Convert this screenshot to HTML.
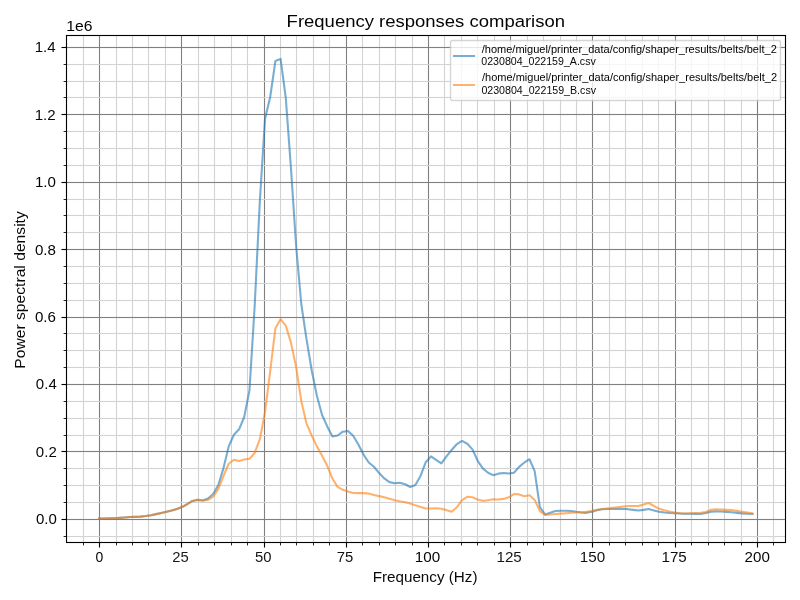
<!DOCTYPE html>
<html><head><meta charset="utf-8"><title>Frequency responses comparison</title>
<style>
html,body{margin:0;padding:0;background:#fff;}
body{width:800px;height:600px;overflow:hidden;}
svg{display:block;will-change:transform;}
text{font-family:"Liberation Sans",sans-serif;fill:#000;}
</style></head><body>
<svg width="800" height="600" viewBox="0 0 800 600">
<rect width="800" height="600" fill="#fff"/>
<g>
<rect x="98.945" y="35" width="1.11" height="507" fill="#808080"/>
<rect x="180.945" y="35" width="1.11" height="507" fill="#808080"/>
<rect x="263.945" y="35" width="1.11" height="507" fill="#808080"/>
<rect x="345.945" y="35" width="1.11" height="507" fill="#808080"/>
<rect x="427.945" y="35" width="1.11" height="507" fill="#808080"/>
<rect x="509.945" y="35" width="1.11" height="507" fill="#808080"/>
<rect x="591.945" y="35" width="1.11" height="507" fill="#808080"/>
<rect x="674.945" y="35" width="1.11" height="507" fill="#808080"/>
<rect x="756.945" y="35" width="1.11" height="507" fill="#808080"/>
<rect x="82.945" y="35" width="1.11" height="507" fill="#d3d3d3"/>
<rect x="115.945" y="35" width="1.11" height="507" fill="#d3d3d3"/>
<rect x="131.945" y="35" width="1.11" height="507" fill="#d3d3d3"/>
<rect x="147.945" y="35" width="1.11" height="507" fill="#d3d3d3"/>
<rect x="164.945" y="35" width="1.11" height="507" fill="#d3d3d3"/>
<rect x="197.945" y="35" width="1.11" height="507" fill="#d3d3d3"/>
<rect x="213.945" y="35" width="1.11" height="507" fill="#d3d3d3"/>
<rect x="230.945" y="35" width="1.11" height="507" fill="#d3d3d3"/>
<rect x="246.945" y="35" width="1.11" height="507" fill="#d3d3d3"/>
<rect x="279.945" y="35" width="1.11" height="507" fill="#d3d3d3"/>
<rect x="295.945" y="35" width="1.11" height="507" fill="#d3d3d3"/>
<rect x="312.945" y="35" width="1.11" height="507" fill="#d3d3d3"/>
<rect x="328.945" y="35" width="1.11" height="507" fill="#d3d3d3"/>
<rect x="361.945" y="35" width="1.11" height="507" fill="#d3d3d3"/>
<rect x="378.945" y="35" width="1.11" height="507" fill="#d3d3d3"/>
<rect x="394.945" y="35" width="1.11" height="507" fill="#d3d3d3"/>
<rect x="411.945" y="35" width="1.11" height="507" fill="#d3d3d3"/>
<rect x="443.945" y="35" width="1.11" height="507" fill="#d3d3d3"/>
<rect x="460.945" y="35" width="1.11" height="507" fill="#d3d3d3"/>
<rect x="476.945" y="35" width="1.11" height="507" fill="#d3d3d3"/>
<rect x="493.945" y="35" width="1.11" height="507" fill="#d3d3d3"/>
<rect x="526.945" y="35" width="1.11" height="507" fill="#d3d3d3"/>
<rect x="542.945" y="35" width="1.11" height="507" fill="#d3d3d3"/>
<rect x="559.945" y="35" width="1.11" height="507" fill="#d3d3d3"/>
<rect x="575.945" y="35" width="1.11" height="507" fill="#d3d3d3"/>
<rect x="608.945" y="35" width="1.11" height="507" fill="#d3d3d3"/>
<rect x="624.945" y="35" width="1.11" height="507" fill="#d3d3d3"/>
<rect x="641.945" y="35" width="1.11" height="507" fill="#d3d3d3"/>
<rect x="657.945" y="35" width="1.11" height="507" fill="#d3d3d3"/>
<rect x="690.945" y="35" width="1.11" height="507" fill="#d3d3d3"/>
<rect x="707.945" y="35" width="1.11" height="507" fill="#d3d3d3"/>
<rect x="723.945" y="35" width="1.11" height="507" fill="#d3d3d3"/>
<rect x="740.945" y="35" width="1.11" height="507" fill="#d3d3d3"/>
<rect x="772.945" y="35" width="1.11" height="507" fill="#d3d3d3"/>
<rect x="66" y="518.945" width="719" height="1.11" fill="#808080"/>
<rect x="66" y="450.945" width="719" height="1.11" fill="#808080"/>
<rect x="66" y="383.945" width="719" height="1.11" fill="#808080"/>
<rect x="66" y="316.945" width="719" height="1.11" fill="#808080"/>
<rect x="66" y="248.945" width="719" height="1.11" fill="#808080"/>
<rect x="66" y="181.945" width="719" height="1.11" fill="#808080"/>
<rect x="66" y="113.945" width="719" height="1.11" fill="#808080"/>
<rect x="66" y="46.945" width="719" height="1.11" fill="#808080"/>
<rect x="66" y="535.945" width="719" height="1.11" fill="#d3d3d3"/>
<rect x="66" y="501.945" width="719" height="1.11" fill="#d3d3d3"/>
<rect x="66" y="484.945" width="719" height="1.11" fill="#d3d3d3"/>
<rect x="66" y="467.945" width="719" height="1.11" fill="#d3d3d3"/>
<rect x="66" y="434.945" width="719" height="1.11" fill="#d3d3d3"/>
<rect x="66" y="417.945" width="719" height="1.11" fill="#d3d3d3"/>
<rect x="66" y="400.945" width="719" height="1.11" fill="#d3d3d3"/>
<rect x="66" y="366.945" width="719" height="1.11" fill="#d3d3d3"/>
<rect x="66" y="349.945" width="719" height="1.11" fill="#d3d3d3"/>
<rect x="66" y="332.945" width="719" height="1.11" fill="#d3d3d3"/>
<rect x="66" y="299.945" width="719" height="1.11" fill="#d3d3d3"/>
<rect x="66" y="282.945" width="719" height="1.11" fill="#d3d3d3"/>
<rect x="66" y="265.945" width="719" height="1.11" fill="#d3d3d3"/>
<rect x="66" y="231.945" width="719" height="1.11" fill="#d3d3d3"/>
<rect x="66" y="214.945" width="719" height="1.11" fill="#d3d3d3"/>
<rect x="66" y="198.945" width="719" height="1.11" fill="#d3d3d3"/>
<rect x="66" y="164.945" width="719" height="1.11" fill="#d3d3d3"/>
<rect x="66" y="147.945" width="719" height="1.11" fill="#d3d3d3"/>
<rect x="66" y="130.945" width="719" height="1.11" fill="#d3d3d3"/>
<rect x="66" y="96.945" width="719" height="1.11" fill="#d3d3d3"/>
<rect x="66" y="80.945" width="719" height="1.11" fill="#d3d3d3"/>
<rect x="66" y="63.945" width="719" height="1.11" fill="#d3d3d3"/>
</g>
<polyline points="99.09,518.60 104.28,518.45 109.46,518.35 114.65,518.21 119.83,517.87 125.02,517.46 130.20,517.08 135.39,516.84 140.57,516.65 145.76,516.05 150.95,515.24 156.13,514.14 161.32,512.97 166.50,511.78 171.69,510.58 176.87,509.00 182.06,507.05 187.24,504.05 192.43,500.91 197.62,499.96 202.80,500.52 207.99,498.43 213.17,494.06 218.36,484.94 223.54,467.84 228.73,446.37 233.92,434.72 239.10,429.33 244.29,416.75 249.47,390.34 254.66,306.28 259.84,201.08 265.03,118.78 270.21,96.98 275.40,61.07 280.59,58.88 285.77,97.77 290.96,168.08 296.14,246.08 301.33,304.47 306.51,339.16 311.70,370.29 316.88,395.81 322.07,415.05 327.26,426.42 332.44,436.47 337.63,435.52 342.81,431.67 348.00,430.94 353.18,435.76 358.37,444.49 363.55,454.57 368.74,462.46 373.93,466.75 379.11,473.05 384.30,478.41 389.48,482.14 394.67,483.27 399.85,482.78 405.04,484.26 410.22,487.04 415.41,485.01 420.60,475.73 425.78,462.23 430.97,456.40 436.15,459.84 441.34,463.40 446.52,456.44 451.71,449.94 456.90,444.04 462.08,440.95 467.27,443.73 472.45,449.40 477.64,460.80 482.82,468.39 488.01,472.81 493.19,475.15 498.38,473.63 503.57,472.93 508.75,473.51 513.94,472.72 519.12,466.84 524.31,462.53 529.49,459.24 534.68,471.11 539.86,507.11 545.05,514.39 550.24,512.67 555.42,511.01 560.61,510.78 565.79,510.72 570.98,510.96 576.16,511.82 581.35,512.56 586.53,512.85 591.72,511.81 596.91,510.17 602.09,509.31 607.28,508.96 612.46,508.96 617.65,508.86 622.83,508.67 628.02,509.16 633.20,509.86 638.39,510.56 643.58,509.85 648.76,508.96 653.95,510.40 659.13,511.75 664.32,512.55 669.50,513.00 674.69,513.29 679.88,513.52 685.06,513.68 690.25,513.68 695.43,513.84 700.62,513.92 705.80,513.08 710.99,511.63 716.17,511.34 721.36,511.56 726.55,511.87 731.73,512.27 736.92,512.84 742.10,513.39 747.29,513.70 752.47,514.01" fill="none" stroke="#1f77b4" stroke-opacity="0.6" stroke-width="2.083" stroke-linejoin="round" stroke-linecap="square"/>
<polyline points="99.09,518.60 104.28,518.45 109.46,518.35 114.65,518.21 119.83,517.87 125.02,517.46 130.20,517.08 135.39,516.84 140.57,516.65 145.76,516.05 150.95,515.24 156.13,514.14 161.32,512.97 166.50,511.78 171.69,510.58 176.87,509.00 182.06,507.05 187.24,504.05 192.43,500.91 197.62,499.54 202.80,500.51 207.99,499.87 213.17,496.57 218.36,488.94 223.54,475.77 228.73,463.77 233.92,459.78 239.10,460.99 244.29,459.53 249.47,458.82 254.66,452.95 259.84,439.23 265.03,411.89 270.21,371.21 275.40,328.23 280.59,319.17 285.77,325.61 290.96,342.60 296.14,367.24 301.33,401.16 306.51,423.59 311.70,435.51 316.88,446.35 322.07,455.78 327.26,465.84 332.44,478.54 337.63,486.93 342.81,489.84 348.00,491.50 353.18,492.92 358.37,493.11 363.55,493.11 368.74,493.59 373.93,494.98 379.11,496.12 384.30,497.25 389.48,498.85 394.67,500.33 399.85,501.32 405.04,502.19 410.22,503.44 415.41,505.36 420.60,507.03 425.78,508.43 430.97,508.43 436.15,508.28 441.34,508.74 446.52,510.13 451.71,511.73 456.90,507.20 462.08,500.08 467.27,496.82 472.45,497.25 477.64,499.42 482.82,500.85 488.01,500.20 493.19,499.22 498.38,499.50 503.57,498.89 508.75,497.27 513.94,494.08 519.12,494.40 524.31,496.26 529.49,495.34 534.68,499.91 539.86,511.08 545.05,514.99 550.24,514.51 555.42,514.06 560.61,513.63 565.79,513.18 570.98,512.71 576.16,512.46 581.35,512.21 586.53,511.86 591.72,510.95 596.91,509.70 602.09,508.97 607.28,508.48 612.46,507.90 617.65,507.21 622.83,506.44 628.02,506.08 633.20,505.92 638.39,505.92 643.58,504.55 648.76,503.00 653.95,505.99 659.13,508.81 664.32,510.32 669.50,511.55 674.69,512.64 679.88,513.17 685.06,513.43 690.25,513.24 695.43,513.03 700.62,512.75 705.80,512.05 710.99,509.70 716.17,509.33 721.36,509.61 726.55,509.85 731.73,510.07 736.92,510.89 742.10,511.79 747.29,512.63 752.47,513.47" fill="none" stroke="#ff7f0e" stroke-opacity="0.6" stroke-width="2.083" stroke-linejoin="round" stroke-linecap="square"/>
<g>
<rect x="65.945" y="35" width="1.11" height="508" fill="#000"/>
<rect x="784.945" y="35" width="1.11" height="508" fill="#000"/>
<rect x="66" y="34.945" width="720" height="1.11" fill="#000"/>
<rect x="66" y="541.945" width="720" height="1.11" fill="#000"/>
<rect x="98.945" y="542" width="1.11" height="5.5" fill="#000"/>
<rect x="180.945" y="542" width="1.11" height="5.5" fill="#000"/>
<rect x="263.945" y="542" width="1.11" height="5.5" fill="#000"/>
<rect x="345.945" y="542" width="1.11" height="5.5" fill="#000"/>
<rect x="427.945" y="542" width="1.11" height="5.5" fill="#000"/>
<rect x="509.945" y="542" width="1.11" height="5.5" fill="#000"/>
<rect x="591.945" y="542" width="1.11" height="5.5" fill="#000"/>
<rect x="674.945" y="542" width="1.11" height="5.5" fill="#000"/>
<rect x="756.945" y="542" width="1.11" height="5.5" fill="#000"/>
<rect x="83.000" y="542" width="1" height="3.42" fill="#000" fill-opacity="0.85"/>
<rect x="116.000" y="542" width="1" height="3.42" fill="#000" fill-opacity="0.85"/>
<rect x="132.000" y="542" width="1" height="3.42" fill="#000" fill-opacity="0.85"/>
<rect x="148.000" y="542" width="1" height="3.42" fill="#000" fill-opacity="0.85"/>
<rect x="165.000" y="542" width="1" height="3.42" fill="#000" fill-opacity="0.85"/>
<rect x="198.000" y="542" width="1" height="3.42" fill="#000" fill-opacity="0.85"/>
<rect x="214.000" y="542" width="1" height="3.42" fill="#000" fill-opacity="0.85"/>
<rect x="231.000" y="542" width="1" height="3.42" fill="#000" fill-opacity="0.85"/>
<rect x="247.000" y="542" width="1" height="3.42" fill="#000" fill-opacity="0.85"/>
<rect x="280.000" y="542" width="1" height="3.42" fill="#000" fill-opacity="0.85"/>
<rect x="296.000" y="542" width="1" height="3.42" fill="#000" fill-opacity="0.85"/>
<rect x="313.000" y="542" width="1" height="3.42" fill="#000" fill-opacity="0.85"/>
<rect x="329.000" y="542" width="1" height="3.42" fill="#000" fill-opacity="0.85"/>
<rect x="362.000" y="542" width="1" height="3.42" fill="#000" fill-opacity="0.85"/>
<rect x="379.000" y="542" width="1" height="3.42" fill="#000" fill-opacity="0.85"/>
<rect x="395.000" y="542" width="1" height="3.42" fill="#000" fill-opacity="0.85"/>
<rect x="412.000" y="542" width="1" height="3.42" fill="#000" fill-opacity="0.85"/>
<rect x="444.000" y="542" width="1" height="3.42" fill="#000" fill-opacity="0.85"/>
<rect x="461.000" y="542" width="1" height="3.42" fill="#000" fill-opacity="0.85"/>
<rect x="477.000" y="542" width="1" height="3.42" fill="#000" fill-opacity="0.85"/>
<rect x="494.000" y="542" width="1" height="3.42" fill="#000" fill-opacity="0.85"/>
<rect x="527.000" y="542" width="1" height="3.42" fill="#000" fill-opacity="0.85"/>
<rect x="543.000" y="542" width="1" height="3.42" fill="#000" fill-opacity="0.85"/>
<rect x="560.000" y="542" width="1" height="3.42" fill="#000" fill-opacity="0.85"/>
<rect x="576.000" y="542" width="1" height="3.42" fill="#000" fill-opacity="0.85"/>
<rect x="609.000" y="542" width="1" height="3.42" fill="#000" fill-opacity="0.85"/>
<rect x="625.000" y="542" width="1" height="3.42" fill="#000" fill-opacity="0.85"/>
<rect x="642.000" y="542" width="1" height="3.42" fill="#000" fill-opacity="0.85"/>
<rect x="658.000" y="542" width="1" height="3.42" fill="#000" fill-opacity="0.85"/>
<rect x="691.000" y="542" width="1" height="3.42" fill="#000" fill-opacity="0.85"/>
<rect x="708.000" y="542" width="1" height="3.42" fill="#000" fill-opacity="0.85"/>
<rect x="724.000" y="542" width="1" height="3.42" fill="#000" fill-opacity="0.85"/>
<rect x="741.000" y="542" width="1" height="3.42" fill="#000" fill-opacity="0.85"/>
<rect x="773.000" y="542" width="1" height="3.42" fill="#000" fill-opacity="0.85"/>
<rect x="61.5" y="518.945" width="5.5" height="1.11" fill="#000"/>
<rect x="61.5" y="450.945" width="5.5" height="1.11" fill="#000"/>
<rect x="61.5" y="383.945" width="5.5" height="1.11" fill="#000"/>
<rect x="61.5" y="316.945" width="5.5" height="1.11" fill="#000"/>
<rect x="61.5" y="248.945" width="5.5" height="1.11" fill="#000"/>
<rect x="61.5" y="181.945" width="5.5" height="1.11" fill="#000"/>
<rect x="61.5" y="113.945" width="5.5" height="1.11" fill="#000"/>
<rect x="61.5" y="46.945" width="5.5" height="1.11" fill="#000"/>
<rect x="63.58" y="536.000" width="3.42" height="1" fill="#000" fill-opacity="0.85"/>
<rect x="63.58" y="502.000" width="3.42" height="1" fill="#000" fill-opacity="0.85"/>
<rect x="63.58" y="485.000" width="3.42" height="1" fill="#000" fill-opacity="0.85"/>
<rect x="63.58" y="468.000" width="3.42" height="1" fill="#000" fill-opacity="0.85"/>
<rect x="63.58" y="435.000" width="3.42" height="1" fill="#000" fill-opacity="0.85"/>
<rect x="63.58" y="418.000" width="3.42" height="1" fill="#000" fill-opacity="0.85"/>
<rect x="63.58" y="401.000" width="3.42" height="1" fill="#000" fill-opacity="0.85"/>
<rect x="63.58" y="367.000" width="3.42" height="1" fill="#000" fill-opacity="0.85"/>
<rect x="63.58" y="350.000" width="3.42" height="1" fill="#000" fill-opacity="0.85"/>
<rect x="63.58" y="333.000" width="3.42" height="1" fill="#000" fill-opacity="0.85"/>
<rect x="63.58" y="300.000" width="3.42" height="1" fill="#000" fill-opacity="0.85"/>
<rect x="63.58" y="283.000" width="3.42" height="1" fill="#000" fill-opacity="0.85"/>
<rect x="63.58" y="266.000" width="3.42" height="1" fill="#000" fill-opacity="0.85"/>
<rect x="63.58" y="232.000" width="3.42" height="1" fill="#000" fill-opacity="0.85"/>
<rect x="63.58" y="215.000" width="3.42" height="1" fill="#000" fill-opacity="0.85"/>
<rect x="63.58" y="199.000" width="3.42" height="1" fill="#000" fill-opacity="0.85"/>
<rect x="63.58" y="165.000" width="3.42" height="1" fill="#000" fill-opacity="0.85"/>
<rect x="63.58" y="148.000" width="3.42" height="1" fill="#000" fill-opacity="0.85"/>
<rect x="63.58" y="131.000" width="3.42" height="1" fill="#000" fill-opacity="0.85"/>
<rect x="63.58" y="97.000" width="3.42" height="1" fill="#000" fill-opacity="0.85"/>
<rect x="63.58" y="81.000" width="3.42" height="1" fill="#000" fill-opacity="0.85"/>
<rect x="63.58" y="64.000" width="3.42" height="1" fill="#000" fill-opacity="0.85"/>
</g>
<text id="m0" x="99.40" y="561.77" font-size="14.80" text-anchor="middle" textLength="7.75" lengthAdjust="spacingAndGlyphs" fill-opacity="0.987">0</text>
<text id="m1" x="180.60" y="562.20" font-size="14.80" text-anchor="middle" textLength="16.50" lengthAdjust="spacingAndGlyphs" fill-opacity="0.897">25</text>
<text id="m2" x="263.37" y="561.93" font-size="14.80" text-anchor="middle" textLength="16.50" lengthAdjust="spacingAndGlyphs" fill-opacity="0.931">50</text>
<text id="m3" x="344.93" y="562.48" font-size="14.80" text-anchor="middle" textLength="16.50" lengthAdjust="spacingAndGlyphs" fill-opacity="0.932">75</text>
<text id="m4" x="427.49" y="561.59" font-size="14.80" text-anchor="middle" textLength="25.38" lengthAdjust="spacingAndGlyphs" fill-opacity="0.982">100</text>
<text id="m5" x="509.14" y="561.97" font-size="14.80" text-anchor="middle" textLength="25.38" lengthAdjust="spacingAndGlyphs" fill-opacity="0.917">125</text>
<text id="m6" x="592.52" y="561.90" font-size="14.80" text-anchor="middle" textLength="25.38" lengthAdjust="spacingAndGlyphs" fill-opacity="0.939">150</text>
<text id="m7" x="674.12" y="562.07" font-size="14.80" text-anchor="middle" textLength="25.38" lengthAdjust="spacingAndGlyphs" fill-opacity="0.945">175</text>
<text id="m8" x="757.26" y="562.31" font-size="14.80" text-anchor="middle" textLength="25.25" lengthAdjust="spacingAndGlyphs" fill-opacity="0.971">200</text>
<text id="m9" x="425.08" y="581.51" font-size="14.80" text-anchor="middle" textLength="104.75" lengthAdjust="spacingAndGlyphs" fill-opacity="0.966">Frequency (Hz)</text>
<text id="m10" x="56.87" y="524.09" font-size="14.80" text-anchor="end" textLength="20.88" lengthAdjust="spacingAndGlyphs" fill-opacity="0.993">0.0</text>
<text id="m11" x="56.76" y="457.41" font-size="14.80" text-anchor="end" textLength="20.88" lengthAdjust="spacingAndGlyphs" fill-opacity="0.967">0.2</text>
<text id="m12" x="56.77" y="388.77" font-size="14.80" text-anchor="end" textLength="20.88" lengthAdjust="spacingAndGlyphs" fill-opacity="0.977">0.4</text>
<text id="m13" x="55.93" y="322.15" font-size="14.80" text-anchor="end" textLength="21.00" lengthAdjust="spacingAndGlyphs" fill-opacity="0.990">0.6</text>
<text id="m14" x="55.91" y="255.42" font-size="14.80" text-anchor="end" textLength="21.00" lengthAdjust="spacingAndGlyphs" fill-opacity="0.982">0.8</text>
<text id="m15" x="55.91" y="187.01" font-size="14.80" text-anchor="end" textLength="21.00" lengthAdjust="spacingAndGlyphs" fill-opacity="0.989">1.0</text>
<text id="m16" x="55.71" y="120.26" font-size="14.80" text-anchor="end" textLength="21.00" lengthAdjust="spacingAndGlyphs" fill-opacity="0.964">1.2</text>
<text id="m17" x="55.72" y="51.80" font-size="14.80" text-anchor="end" textLength="21.00" lengthAdjust="spacingAndGlyphs" fill-opacity="0.971">1.4</text>
<text id="m18" x="24.84" y="289.96" font-size="14.80" text-anchor="middle" textLength="157.50" lengthAdjust="spacingAndGlyphs" transform="rotate(-90.0 24.84 289.96)" fill-opacity="0.973">Power spectral density</text>
<text id="m19" x="66.18" y="31.39" font-size="14.85" text-anchor="start" textLength="26.25" lengthAdjust="spacingAndGlyphs" fill-opacity="0.994">1e6</text>
<text id="m20" x="425.83" y="26.92" font-size="17.20" text-anchor="middle" textLength="278.43" lengthAdjust="spacingAndGlyphs" fill-opacity="0.990">Frequency responses comparison</text>
<rect x="450.5" y="40.5" width="330" height="60" rx="1.93" ry="1.93" fill="#fff" stroke="#ccc" stroke-width="1.389" opacity="0.8"/>
<rect x="453" y="55" width="22" height="2" fill="#1f77b4" fill-opacity="0.6"/>
<rect x="453" y="84" width="22" height="2" fill="#ff7f0e" fill-opacity="0.6"/>
<text id="l0" x="481.75" y="53.15" font-size="10.31" textLength="295.00" lengthAdjust="spacingAndGlyphs">/home/miguel/printer_data/config/shaper_results/belts/belt_2</text>
<text id="l1" x="481.27" y="65.13" font-size="10.31" textLength="114.50" lengthAdjust="spacingAndGlyphs" fill-opacity="0.971">0230804_022159_A.csv</text>
<text id="l2" x="482.02" y="80.52" font-size="10.31" textLength="295.00" lengthAdjust="spacingAndGlyphs" fill-opacity="0.989">/home/miguel/printer_data/config/shaper_results/belts/belt_2</text>
<text id="l3" x="481.40" y="94.33" font-size="10.31" textLength="114.62" lengthAdjust="spacingAndGlyphs" fill-opacity="0.974">0230804_022159_B.csv</text>
</svg>
</body></html>
